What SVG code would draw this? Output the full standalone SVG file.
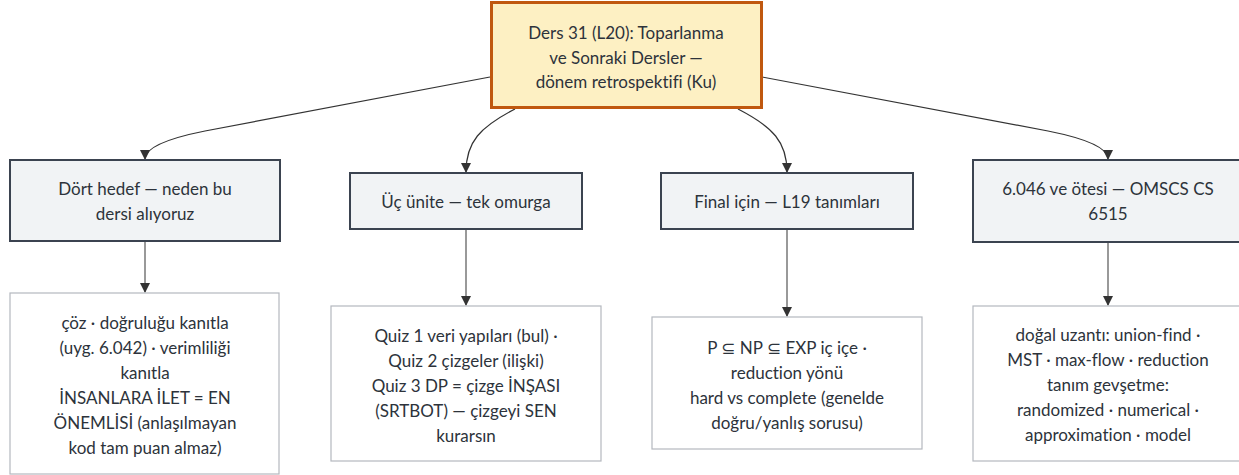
<svg xmlns="http://www.w3.org/2000/svg" width="1239" height="475" viewBox="0 0 1239 475">
  <style>
    .lbl { font-family: Lato, "Noto Sans", "DejaVu Sans", sans-serif; font-size: 17px; fill: #2d333b; text-anchor: middle; dominant-baseline: central; font-variant-ligatures: none; }
    .root { fill: #fdf0c3; stroke: #c0580f; stroke-width: 3; }
    .topic { fill: #f1f3f5; stroke: #3b4350; stroke-width: 2; }
    .detail { fill: #ffffff; stroke: #b4b8be; stroke-width: 1.2; }
    .edge { fill: none; stroke: #333333; stroke-width: 1.2; }
    .drop { fill: none; stroke: #777777; stroke-width: 1.5; }
  </style>
  <defs>
    <marker id="arrow" viewBox="0 0 10 10" refX="9" refY="5" markerWidth="10" markerHeight="10" markerUnits="userSpaceOnUse" orient="auto">
      <path d="M0,0 L10,5 L0,10 z" fill="#333333"/>
    </marker>
  </defs>

  <g id="connectors">
    <path class="edge" d="M490,77 L205,131 Q145,143 145,159" marker-end="url(#arrow)"/>
    <path class="edge" d="M515,109 C480,127 466,142 466,172" marker-end="url(#arrow)"/>
    <path class="edge" d="M738,109 C773,127 787,142 787,172" marker-end="url(#arrow)"/>
    <path class="edge" d="M762,77 L1048,131 Q1108,143 1108,159" marker-end="url(#arrow)"/>
    <path class="drop" d="M145,241 L145,292" marker-end="url(#arrow)"/>
    <path class="drop" d="M466,229 L466,305" marker-end="url(#arrow)"/>
    <path class="drop" d="M787,229 L787,316" marker-end="url(#arrow)"/>
    <path class="drop" d="M1108,242 L1108,305" marker-end="url(#arrow)"/>
  </g>

  <g id="root">
    <rect class="root" x="491.5" y="2.5" width="270" height="105"/>
    <text class="lbl" x="626" y="32">Ders 31 (L20): Toparlanma</text>
    <text class="lbl" x="626" y="57">ve Sonraki Dersler —</text>
    <text class="lbl" x="626" y="81">dönem retrospektifi (Ku)</text>
  </g>

  <g id="goals">
    <rect class="topic" x="10" y="160" width="270" height="81"/>
    <text class="lbl" x="145" y="188">Dört hedef — neden bu</text>
    <text class="lbl" x="145" y="213">dersi alıyoruz</text>
  </g>
  <g id="units">
    <rect class="topic" x="350" y="173" width="232" height="56"/>
    <text class="lbl" x="466" y="201">Üç ünite — tek omurga</text>
  </g>
  <g id="final">
    <rect class="topic" x="661" y="173" width="252" height="56"/>
    <text class="lbl" x="787" y="201">Final için — L19 tanımları</text>
  </g>
  <g id="beyond">
    <rect class="topic" x="973" y="160" width="270" height="82"/>
    <text class="lbl" x="1108" y="188">6.046 ve ötesi — OMSCS CS</text>
    <text class="lbl" x="1108" y="213">6515</text>
  </g>

  <g id="goals-detail">
    <rect class="detail" x="10" y="293" width="269" height="181"/>
    <text class="lbl" x="145" y="322">çöz · doğruluğu kanıtla</text>
    <text class="lbl" x="145" y="347">(uyg. 6.042) · verimliliği</text>
    <text class="lbl" x="145" y="372">kanıtla</text>
    <text class="lbl" x="145" y="397">İNSANLARA İLET = EN</text>
    <text class="lbl" x="145" y="422">ÖNEMLİSİ (anlaşılmayan</text>
    <text class="lbl" x="145" y="447">kod tam puan almaz)</text>
  </g>
  <g id="units-detail">
    <rect class="detail" x="331" y="306" width="270" height="155"/>
    <text class="lbl" x="466" y="335">Quiz 1 veri yapıları (bul) ·</text>
    <text class="lbl" x="466" y="360">Quiz 2 çizgeler (ilişki)</text>
    <text class="lbl" x="466" y="385">Quiz 3 DP = çizge İNŞASI</text>
    <text class="lbl" x="466" y="410">(SRTBOT) — çizgeyi SEN</text>
    <text class="lbl" x="466" y="435">kurarsın</text>
  </g>
  <g id="final-detail">
    <rect class="detail" x="652" y="317" width="270" height="132"/>
    <text class="lbl" x="787" y="347">P ⊆ NP ⊆ EXP iç içe ·</text>
    <text class="lbl" x="787" y="372">reduction yönü</text>
    <text class="lbl" x="787" y="397">hard vs complete (genelde</text>
    <text class="lbl" x="787" y="422">doğru/yanlış sorusu)</text>
  </g>
  <g id="beyond-detail">
    <rect class="detail" x="973" y="306" width="270" height="155"/>
    <text class="lbl" x="1108" y="334">doğal uzantı: union-find ·</text>
    <text class="lbl" x="1108" y="359">MST · max-flow · reduction</text>
    <text class="lbl" x="1108" y="384">tanım gevşetme:</text>
    <text class="lbl" x="1108" y="409">randomized · numerical ·</text>
    <text class="lbl" x="1108" y="434">approximation · model</text>
  </g>
</svg>
